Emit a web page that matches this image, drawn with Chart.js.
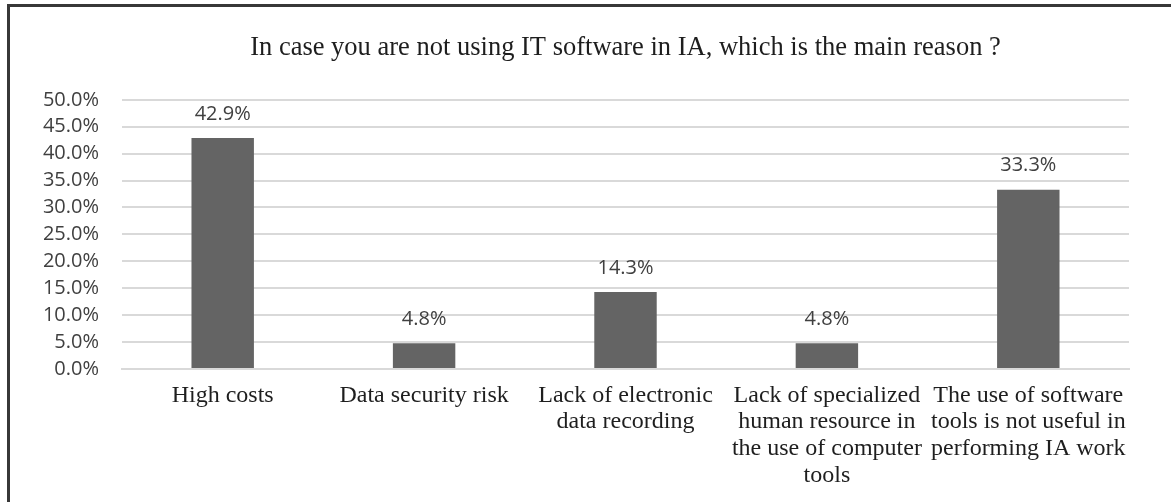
<!DOCTYPE html>
<html>
<head>
<meta charset="utf-8">
<script src="https://cdn.jsdelivr.net/npm/chart.js@4.4.1/dist/chart.umd.min.js"></script>
<style>
  body { margin: 0; background: #fff; overflow: hidden; }
  #wrap { position: relative; width: 1171px; height: 502px; overflow: hidden; }
  #frame { position: absolute; left: 7px; top: 4px; width: 1400px; height: 800px; border: 3px solid #383838; box-sizing: border-box; pointer-events: none; }
  #chart { position: absolute; left: 0; top: 0; }
</style>
</head>
<body>
<div id="wrap">
  <canvas id="chart" width="1171" height="502"></canvas>
  <div id="frame"></div>
</div>
<script>
// reasons for not using IT software in internal audit
var categories = [
    ["High costs"],
    ["Data security risk"],
    ["Lack of electronic", "data recording"],
    ["Lack of specialized", "human resource in", "the use of computer", "tools"],
    ["The use of software", "tools is not useful in", "performing IA work"]
];
var shares = [42.9, 4.8, 14.3, 4.8, 33.3];   // percent of respondents
var yTicks = [0, 5, 10, 15, 20, 25, 30, 35, 40, 45, 50];

// writes the percentage above each bar
var valueLabels = {
    id: 'valueLabels',
    afterDatasetsDraw: function(chart) {
        var ctx = chart.ctx;
        var meta = chart.getDatasetMeta(0);
        ctx.save();
        ctx.font = '20px "Open Sans"';
        ctx.fillStyle = '#404040';
        ctx.textAlign = 'center';
        ctx.textBaseline = 'middle';
        meta.data.forEach(function(bar, i) {
            ctx.fillText(shares[i].toFixed(1) + '%', bar.x, bar.y - 24);
        });
        ctx.restore();
    }
};

var ctx = document.getElementById("chart").getContext('2d');
var myBarChart = new Chart(ctx, {
    type: 'bar',
    data: {
        labels: categories,
        datasets: [{
            data: shares,
            backgroundColor: '#646464',
            borderWidth: 0,
            categoryPercentage: 1,
            barPercentage: 0.31
        }]
    },
    options: {
        responsive: false,
        animation: false,
        layout: { padding: { left: 20, right: 42, top: 0, bottom: 0 } },
        plugins: {
            legend: { display: false },
            tooltip: { enabled: false },
            title: {
                display: true,
                fullSize: false,   // centre over the plot area
                text: 'In case you are not using IT software in IA, which is the main reason ?',
                color: '#1e1e1e',
                font: { family: '"Liberation Serif"', size: 26.5, weight: 'normal', lineHeight: 1.2 },
                padding: { top: 32, bottom: 36 }
            }
        },
        scales: {
            x: {
                grid: { display: false, drawTicks: false },
                border: { display: true, color: '#d9d9d9', width: 2 },
                ticks: {
                    autoSkip: false,
                    maxRotation: 0,
                    padding: 13,
                    color: '#1e1e1e',
                    font: { family: '"Liberation Serif"', size: 24, lineHeight: 1.11 }
                },
                afterFit: function(scale) { scale.height = 133; }
            },
            y: {
                min: 0,
                max: 50,
                afterBuildTicks: function(scale) {
                    scale.ticks = yTicks.map(function(v) { return { value: v }; });
                },
                grid: { color: '#d9d9d9', lineWidth: 2, drawTicks: false },
                border: { display: false },
                ticks: {
                    autoSkip: false,
                    padding: 23,
                    color: '#404040',
                    font: { family: '"Open Sans"', size: 20 },
                    callback: function(v) { return v.toFixed(1) + '%'; }
                },
                afterFit: function(scale) { scale.width = 102; }
            }
        }
    },
    plugins: [valueLabels]
});
</script>
</body>
</html>
